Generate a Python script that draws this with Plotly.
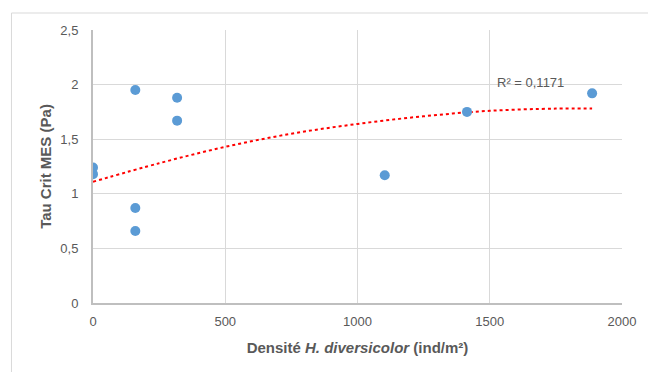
import plotly.graph_objects as go

# Data
density = [0, 0, 160, 160, 160, 318, 318, 1103, 1414, 1887]
tau_crit = [1.24, 1.18, 1.95, 0.87, 0.66, 1.88, 1.67, 1.17, 1.75, 1.92]

# Polynomial trendline (as drawn in the reference)
trend_x = [0, 250, 500, 750, 1000, 1250, 1500, 1750, 1887]
trend_y = [1.11, 1.28, 1.43, 1.55, 1.64, 1.71, 1.76, 1.78, 1.78]

r2_label = "R² = 0,1171"
x_ticks = [0, 500, 1000, 1500, 2000]
y_ticks = [0, 0.5, 1, 1.5, 2, 2.5]
y_tick_text = ["0", "0,5", "1", "1,5", "2", "2,5"]

FONT = "Liberation Sans, Arial, sans-serif"
GREY = "#595959"

fig = go.Figure()
fig.add_trace(go.Scatter(
    x=trend_x, y=trend_y, mode="lines", line_shape="spline",
    line=dict(color="#ff0000", width=2, dash="dot"),
    hoverinfo="skip", showlegend=False,
))
fig.add_trace(go.Scatter(
    x=density, y=tau_crit, mode="markers",
    marker=dict(color="#5b9bd5", size=10),
    showlegend=False,
))

fig.add_annotation(
    x=1520, y=2.02, xref="x", yref="y", text=r2_label, showarrow=False,
    xanchor="left", yanchor="middle",
    font=dict(family=FONT, size=13, color=GREY),
)

# outer chart frame (partially visible in reference)
W, L, R = 648, 93, 23
H, T, B = 372, 30, 69
pw, ph = W - L - R, H - T - B
def px_x(p):
    return (p - L) / pw
def px_y(p):
    return 1 - (p - T) / ph
fig.add_shape(type="line", xref="paper", yref="paper",
              x0=px_x(11), x1=px_x(700), y0=px_y(13), y1=px_y(13),
              line=dict(color="#d9d9d9", width=1))
fig.add_shape(type="line", xref="paper", yref="paper",
              x0=px_x(11), x1=px_x(11), y0=px_y(13), y1=px_y(400),
              line=dict(color="#d9d9d9", width=1))

fig.update_layout(
    width=W, height=H,
    margin=dict(l=L, r=R, t=T, b=B),
    paper_bgcolor="white", plot_bgcolor="white",
    font=dict(family=FONT, size=13, color=GREY),
)
fig.update_xaxes(
    range=[0, 2000], tickvals=x_ticks, ticktext=[str(v) for v in x_ticks],
    showgrid=True, gridcolor="#d9d9d9", gridwidth=1,
    showline=True, linecolor="#bfbfbf", linewidth=2,
    zeroline=False, ticks="", ticklen=0, ticklabelstandoff=5,
    tickfont=dict(family=FONT, size=13, color=GREY),
    title=dict(text="<b>Densité <i>H. diversicolor</i> (ind/m²)</b>",
               font=dict(family=FONT, size=15, color=GREY), standoff=15),
)
fig.update_yaxes(
    range=[0, 2.5], tickvals=y_ticks, ticktext=y_tick_text,
    showgrid=True, gridcolor="#d9d9d9", gridwidth=1,
    showline=True, linecolor="#bfbfbf", linewidth=2,
    zeroline=False, ticks="", ticklen=0, ticklabelstandoff=10,
    tickfont=dict(family=FONT, size=13, color=GREY),
    title=dict(text="<b>Tau Crit MES (Pa)</b>",
               font=dict(family=FONT, size=15, color=GREY), standoff=5),
)

fig.write_html("out.html")
